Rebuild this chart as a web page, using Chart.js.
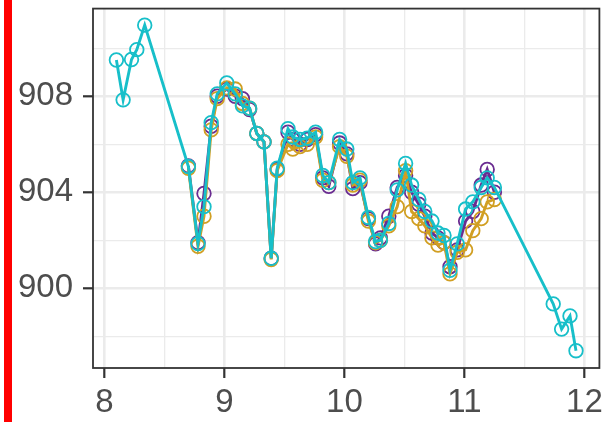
<!DOCTYPE html>
<html>
<head>
<meta charset="utf-8">
<script src="https://cdn.jsdelivr.net/npm/chart.js@4.4.1/dist/chart.umd.min.js"></script>
<style>
  body { margin: 0; background: #fff; }
  #wrap { position: relative; width: 608px; height: 422px; }
  #redbar { position: absolute; left: 4px; top: 0; width: 8px; height: 422px; background: #ff0000; }
</style>
</head>
<body>
<div id="wrap">
  <canvas id="chart" width="608" height="422"></canvas>
  <div id="redbar"></div>
</div>
<script>
// shared x positions (purple + orange, and the middle of cyan)
const xShared = [8.70, 8.78, 8.83, 8.89, 8.94, 9.02, 9.09, 9.15, 9.21, 9.27, 9.33, 9.39, 9.44,
  9.53, 9.57, 9.63, 9.69, 9.76, 9.82, 9.87, 9.96, 10.02, 10.07, 10.13, 10.20, 10.26, 10.30,
  10.37, 10.44, 10.51, 10.56, 10.62, 10.67, 10.73, 10.78, 10.83, 10.88, 10.94, 11.01, 11.07,
  11.14, 11.19, 11.25];

const yPurple = [905.1, 901.9, 903.95, 906.75, 908.0, 908.3, 908.0, 907.9, 907.45, 906.45, 906.1,
  901.25, 904.95, 906.5, 906.2, 906.0, 906.2, 906.4, 904.6, 904.25, 906.05, 905.6, 904.15, 904.4,
  902.9, 901.85, 902.1, 903.0, 904.2, 904.7, 904.0, 903.5, 903.0, 902.3, 902.1, 901.9, 900.9,
  901.6, 902.8, 903.2, 904.3, 904.95, 904.0];

const yOrange = [905.0, 901.75, 903.0, 906.6, 907.9, 908.35, 908.3, 907.7, 907.5, 906.45, 906.1,
  901.2, 904.9, 906.0, 905.8, 905.9, 906.0, 906.3, 904.5, 904.4, 905.9, 905.5, 904.3, 904.5,
  902.8, 901.9, 902.0, 902.6, 903.4, 904.9, 903.2, 902.9, 902.6, 902.1, 901.8, 901.9, 900.6,
  901.5, 901.6, 902.4, 902.9, 903.6, 903.7];

const yCyanMid = [905.07, 901.86, 903.4, 906.9, 908.1, 908.55, 908.1, 907.6, 907.5, 906.45, 906.1,
  901.25, 905.0, 906.65, 906.3, 906.2, 906.25, 906.5, 904.7, 904.4, 906.2, 905.8, 904.4, 904.6,
  902.95, 901.95, 902.0, 902.7, 904.1, 905.2, 904.3, 903.7, 903.2, 902.8, 902.3, 902.2, 900.75,
  901.85, 903.3, 903.6, 904.2, 904.6, 904.2];

// cyan only: extra points at the start and end
const xCyanStart = [8.10, 8.156, 8.226, 8.27, 8.336];
const yCyanStart = [909.51, 907.85, 909.53, 909.94, 910.96];
const xCyanEnd = [11.74, 11.81, 11.88, 11.93];
const yCyanEnd = [899.35, 898.3, 898.85, 897.4];

const xTicks = [8, 8.5, 9, 9.5, 10, 10.5, 11, 11.5, 12];
const xLabels = [8, 9, 10, 11, 12];
const yTicks = [898, 900, 902, 904, 906, 908, 910];
const yLabels = [900, 904, 908];

function toPoints(xs, ys) {
  return xs.map((x, i) => ({ x: x, y: ys[i] }));
}

const xCyan = xCyanStart.concat(xShared, xCyanEnd);
const yCyan = yCyanStart.concat(yCyanMid, yCyanEnd);

function series(label, color, pts) {
  return {
    label: label,
    data: pts,
    borderColor: color,
    backgroundColor: 'rgba(0,0,0,0)',
    pointBorderColor: color,
    pointBackgroundColor: 'rgba(0,0,0,0)',
    pointRadius: 6.8,
    pointBorderWidth: 1.8,
    borderWidth: 2.9,
    tension: 0
  };
}

const panelBorder = {
  id: 'panelBorder',
  afterDraw(chart) {
    const a = chart.chartArea;
    const c = chart.ctx;
    c.save();
    c.strokeStyle = '#333333';
    c.lineWidth = 1.8;
    c.strokeRect(a.left, a.top, a.right - a.left, a.bottom - a.top);
    c.restore();
  }
};

const tickFont = { family: "'Liberation Sans', Arial, sans-serif", size: 33 };

new Chart(document.getElementById('chart').getContext('2d'), {
  type: 'line',
  data: {
    // first dataset is drawn on top
    datasets: [
      series('cyan', '#17bfc9', toPoints(xCyan, yCyan)),
      series('orange', '#d19f23', toPoints(xShared, yOrange)),
      series('purple', '#6a2c91', toPoints(xShared, yPurple))
    ]
  },
  options: {
    responsive: false,
    animation: false,
    layout: { padding: { left: 0, top: 7, right: 7, bottom: 0 } },
    plugins: { legend: { display: false }, tooltip: { enabled: false } },
    scales: {
      x: {
        type: 'linear',
        min: 7.905,
        max: 12.125,
        afterBuildTicks: (scale) => { scale.ticks = xTicks.map(v => ({ value: v })); },
        afterFit: (scale) => { scale.height = 54; scale.paddingLeft = 0; scale.paddingRight = 0; },
        border: { display: false },
        grid: {
          color: '#ebebeb',
          lineWidth: (ctx) => xLabels.includes(ctx.tick && ctx.tick.value) ? 2.6 : 1.3,
          tickColor: (ctx) => xLabels.includes(ctx.tick && ctx.tick.value) ? '#333333' : 'rgba(0,0,0,0)',
          tickWidth: 2.2,
          tickLength: 10
        },
        ticks: {
          autoSkip: false,
          maxRotation: 0,
          padding: 5,
          color: '#4d4d4d',
          font: tickFont,
          callback: (v) => xLabels.includes(v) ? String(v) : ''
        }
      },
      y: {
        min: 896.68,
        max: 911.65,
        afterBuildTicks: (scale) => { scale.ticks = yTicks.map(v => ({ value: v })); },
        afterFit: (scale) => { scale.width = 93; scale.paddingTop = 0; scale.paddingBottom = 0; },
        border: { display: false },
        grid: {
          color: '#ebebeb',
          lineWidth: (ctx) => yLabels.includes(ctx.tick && ctx.tick.value) ? 2.6 : 1.3,
          tickColor: (ctx) => yLabels.includes(ctx.tick && ctx.tick.value) ? '#333333' : 'rgba(0,0,0,0)',
          tickWidth: 2.2,
          tickLength: 10
        },
        ticks: {
          autoSkip: false,
          padding: 10,
          color: '#4d4d4d',
          font: tickFont,
          callback: (v) => yLabels.includes(v) ? String(v) : ''
        }
      }
    }
  },
  plugins: [panelBorder]
});
</script>
</body>
</html>
